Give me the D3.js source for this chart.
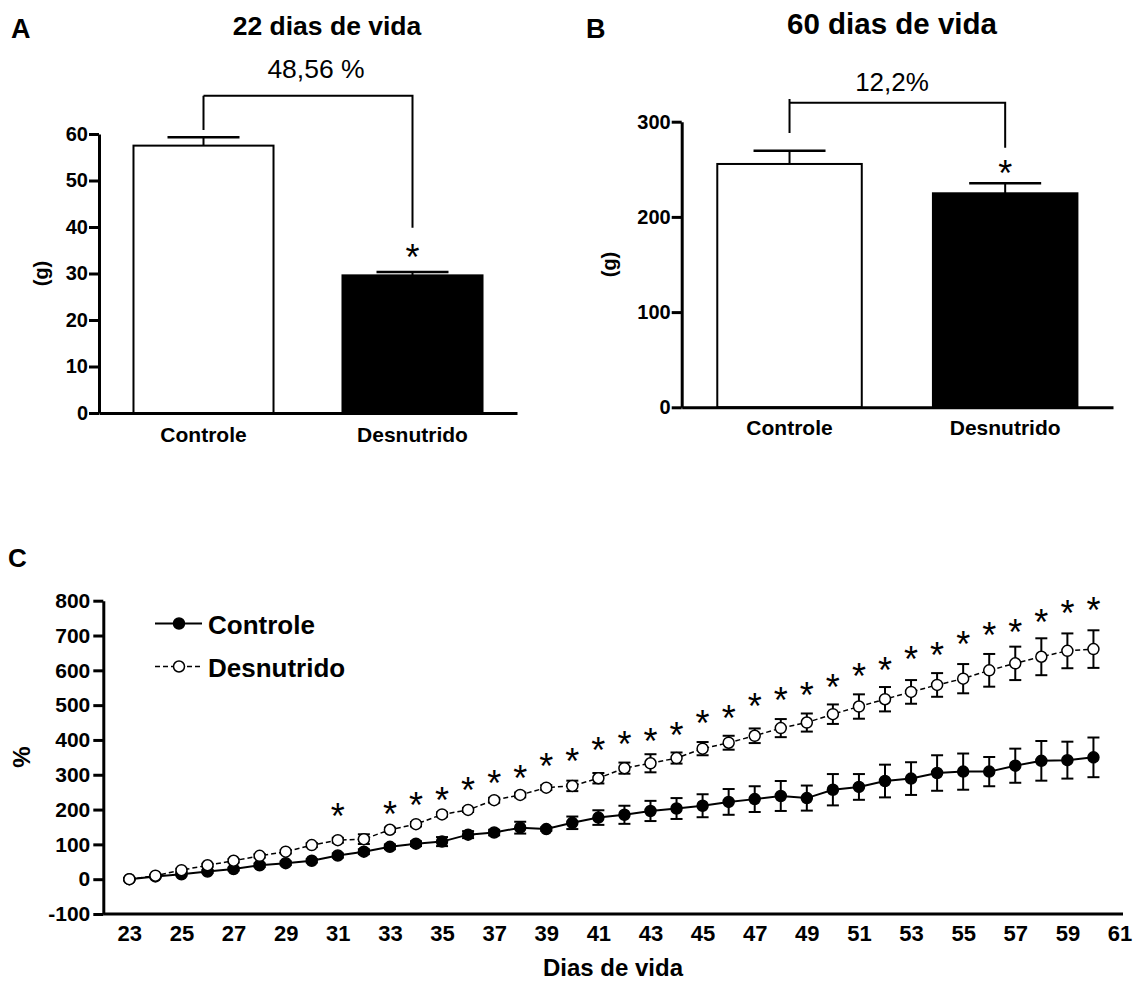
<!DOCTYPE html>
<html>
<head>
<meta charset="utf-8">
<script src="https://cdn.jsdelivr.net/npm/d3@7"></script>
<style>
  body { margin: 0; background: #fff; }
  text { font-family: "Liberation Sans", Arial, Helvetica, sans-serif; }
</style>
</head>
<body>
<script>
// ---- data ----
var groups = ["Controle", "Desnutrido"];

var weight22 = [57.5, 29.6];
var sem22 = [1.8, 0.7];
var ticks22 = [0, 10, 20, 30, 40, 50, 60];

var weight60 = [255.6, 224.8];
var sem60 = [14, 10.5];
var ticks60 = [0, 100, 200, 300];

var days = [23, 24, 25, 26, 27, 28, 29, 30, 31, 32, 33, 34, 35, 36, 37, 38, 39, 40, 41,
            42, 43, 44, 45, 46, 47, 48, 49, 50, 51, 52, 53, 54, 55, 56, 57, 58, 59, 60];
var controle = [0, 8, 14, 22, 29, 40, 46, 53, 68, 79, 93, 102, 108, 128, 134, 148, 144, 162, 177,
                185, 196, 203, 211, 222, 230, 239, 233, 257, 265, 282, 289, 305, 309, 309, 326, 340, 342, 350];
var controleErr = [3, 3, 3, 4, 4, 5, 5, 5, 6, 7, 7, 7, 13, 10, 8, 17, 5, 18, 21,
                   26, 29, 30, 33, 37, 37, 43, 36, 45, 37, 47, 47, 51, 52, 42, 49, 57, 53, 57];
var desnutrido = [0, 10, 26, 40, 53, 67, 79, 98, 112, 115, 142, 158, 186, 199, 227, 242, 263, 268, 290,
                  319, 333, 348, 375, 392, 412, 434, 450, 474, 496, 517, 538, 558, 576, 600, 620, 639, 656, 661];
var desnutridoErr = [2, 3, 4, 4, 5, 5, 5, 6, 7, 14, 6, 6, 6, 6, 7, 7, 7, 15, 15,
                     16, 26, 16, 19, 20, 21, 26, 26, 28, 35, 35, 34, 34, 42, 47, 48, 53, 50, 54];
var starDays = [31, 33, 34, 35, 36, 37, 38, 39, 40, 41, 42, 43, 44, 45, 46, 47, 48, 49, 50,
                51, 52, 53, 54, 55, 56, 57, 58, 59, 60];
var starLevel = [201, 208, 235, 249, 276, 297, 311, 345, 359, 393, 409, 418, 436, 469, 485, 517, 534, 550, 573,
                 603, 622, 653, 666, 697, 723, 732, 758, 785, 795];
var dayTicks = [23, 25, 27, 29, 31, 33, 35, 37, 39, 41, 43, 45, 47, 49, 51, 53, 55, 57, 59, 61];
var pctTicks = [-100, 0, 100, 200, 300, 400, 500, 600, 700, 800];

var svg = d3.select("body").append("svg")
    .attr("width", 1138)
    .attr("height", 981);

function styleAxis(g, size) {
    g.attr("font-family", null).attr("font-size", null);
    g.select(".domain").attr("stroke-width", 3);
    g.selectAll(".tick line").attr("stroke-width", 3);
    g.selectAll("text")
        .style("font-size", size + "px")
        .style("font-weight", "bold")
        .attr("fill", "#000");
}

function star(g, x, y, fs) {
    g.append("text")
        .attr("x", x)
        .attr("y", y + 0.56 * fs)
        .attr("text-anchor", "middle")
        .style("font-size", fs + "px")
        .text("*");
}

var plainNum = function(d) { return String(d); };

// ---- bar panels ----
function barPanel(opt) {
    var g = svg.append("g");
    var x = d3.scaleBand().domain(groups).range([opt.left, opt.right])
        .paddingInner(0.33).paddingOuter(0.165);
    var y = d3.scaleLinear().domain([0, opt.max]).range([opt.bottom, opt.top]);
    var bw = x.bandwidth();
    var data = groups.map(function(d, i) { return {g: d, v: opt.values[i], e: opt.errs[i]}; });

    // error bars (upper only)
    g.selectAll(".eb").data(data).enter().append("line")
        .attr("x1", function(d) { return x(d.g) + bw / 2; })
        .attr("x2", function(d) { return x(d.g) + bw / 2; })
        .attr("y1", function(d) { return y(d.v); })
        .attr("y2", function(d) { return y(d.v + d.e); })
        .attr("stroke", "#000").attr("stroke-width", 2);
    g.selectAll(".cap").data(data).enter().append("line")
        .attr("x1", function(d) { return x(d.g) + bw / 2 - 36; })
        .attr("x2", function(d) { return x(d.g) + bw / 2 + 36; })
        .attr("y1", function(d) { return y(d.v + d.e); })
        .attr("y2", function(d) { return y(d.v + d.e); })
        .attr("stroke", "#000").attr("stroke-width", 2.5);

    g.selectAll(".bar").data(data).enter().append("rect")
        .attr("x", function(d) { return x(d.g); })
        .attr("y", function(d) { return y(d.v); })
        .attr("width", bw)
        .attr("height", function(d) { return y(0) - y(d.v); })
        .attr("fill", function(d, i) { return i === 0 ? "#fff" : "#000"; })
        .attr("stroke", "#000")
        .attr("stroke-width", 2);

    var ya = g.append("g")
        .attr("transform", "translate(" + opt.left + ",0)")
        .call(d3.axisLeft(y).tickValues(opt.ticks).tickFormat(plainNum)
            .tickSize(10).tickSizeOuter(0).tickPadding(1));
    styleAxis(ya, 20);

    var xa = g.append("g")
        .attr("transform", "translate(0," + opt.bottom + ")")
        .call(d3.axisBottom(x).tickSize(0).tickSizeOuter(0));
    styleAxis(xa, 21);
    xa.selectAll("text").attr("y", opt.labelGap).attr("dy", 0);

    g.append("text")
        .attr("transform", "translate(" + opt.ylabX + "," + ((opt.top + opt.bottom) / 2) + ") rotate(-90)")
        .attr("text-anchor", "middle")
        .style("font-size", "20px").style("font-weight", "bold")
        .text("(g)");

    g.append("text")
        .attr("x", opt.letterX).attr("y", opt.letterY)
        .style("font-size", "27px").style("font-weight", "bold")
        .text(opt.letter);

    g.append("text")
        .attr("x", opt.titleX).attr("y", opt.titleY)
        .attr("text-anchor", "middle")
        .style("font-size", opt.titleSize + "px").style("font-weight", "bold")
        .text(opt.title);

    // comparison bracket
    var cx0 = x(groups[0]) + bw / 2, cx1 = x(groups[1]) + bw / 2;
    g.append("path")
        .attr("d", "M" + cx0 + "," + opt.brL + "V" + opt.brTopStub + "M" + cx0 + "," + opt.brTop +
              "H" + cx1 + "V" + opt.brR)
        .attr("fill", "none").attr("stroke", "#000").attr("stroke-width", 2);
    g.append("text")
        .attr("x", opt.pctX).attr("y", opt.pctY)
        .attr("text-anchor", "middle")
        .style("font-size", opt.pctSize + "px")
        .text(opt.pct);

    star(g, cx1, opt.starY, 36);
}

barPanel({
    left: 99, right: 517, top: 134, bottom: 413, max: 60,
    values: weight22, errs: sem22, ticks: ticks22, labelGap: 28.5,
    ylabX: 48, letter: "A", letterX: 11, letterY: 38,
    title: "22 dias de vida", titleX: 327, titleY: 35, titleSize: 26.5,
    brTop: 95.7, brTopStub: 95.7, brL: 130, brR: 227.7,
    pct: "48,56 %", pctX: 316, pctY: 78, pctSize: 26.5, starY: 250
});

barPanel({
    left: 681.7, right: 1113, top: 121.7, bottom: 407.3, max: 300,
    values: weight60, errs: sem60, ticks: ticks60, labelGap: 28,
    ylabX: 616, letter: "B", letterX: 586, letterY: 38,
    title: "60 dias de vida", titleX: 892, titleY: 34, titleSize: 29.5,
    brTop: 102.7, brTopStub: 99, brL: 133, brR: 147.7,
    pct: "12,2%", pctX: 892, pctY: 90.7, pctSize: 26, starY: 165.5
});

// ---- panel C: growth curve ----
var gC = svg.append("g");
var xC = d3.scaleLinear().domain([22, 61]).range([103.3, 1119.5]);
var yC = d3.scaleLinear().domain([-100, 800]).range([914, 600.7]);

var series = [
    {name: "Controle", vals: controle, errs: controleErr, fill: "#000", dash: null, lw: 2},
    {name: "Desnutrido", vals: desnutrido, errs: desnutridoErr, fill: "#fff", dash: "5,3", lw: 1.5}
];

var line = d3.line()
    .x(function(d) { return xC(d.day); })
    .y(function(d) { return yC(d.v); });

series.forEach(function(s) {
    var pts = days.map(function(day, i) { return {day: day, v: s.vals[i], e: s.errs[i]}; });
    s.pts = pts;
    gC.append("path")
        .datum(pts)
        .attr("d", line)
        .attr("fill", "none")
        .attr("stroke", "#000")
        .attr("stroke-width", s.lw)
        .attr("stroke-dasharray", s.dash);
});

series.forEach(function(s) {
    var eg = gC.append("g").attr("stroke", "#000").attr("stroke-width", 2);
    eg.selectAll(".v").data(s.pts).enter().append("line")
        .attr("x1", function(d) { return xC(d.day); })
        .attr("x2", function(d) { return xC(d.day); })
        .attr("y1", function(d) { return yC(d.v - d.e); })
        .attr("y2", function(d) { return yC(d.v + d.e); });
    eg.selectAll(".t").data(s.pts).enter().append("line")
        .attr("x1", function(d) { return xC(d.day) - 6; })
        .attr("x2", function(d) { return xC(d.day) + 6; })
        .attr("y1", function(d) { return yC(d.v + d.e); })
        .attr("y2", function(d) { return yC(d.v + d.e); });
    eg.selectAll(".b").data(s.pts).enter().append("line")
        .attr("x1", function(d) { return xC(d.day) - 6; })
        .attr("x2", function(d) { return xC(d.day) + 6; })
        .attr("y1", function(d) { return yC(d.v - d.e); })
        .attr("y2", function(d) { return yC(d.v - d.e); });
});

series.forEach(function(s) {
    gC.selectAll(".m-" + s.name).data(s.pts).enter().append("circle")
        .attr("cx", function(d) { return xC(d.day); })
        .attr("cy", function(d) { return yC(d.v); })
        .attr("r", 5.5)
        .attr("fill", s.fill)
        .attr("stroke", "#000")
        .attr("stroke-width", 1.5);
});

starDays.forEach(function(day, i) {
    star(gC, xC(day), yC(starLevel[i]), 36);
});

var yaC = gC.append("g")
    .attr("transform", "translate(103.3,0)")
    .call(d3.axisLeft(yC).tickValues(pctTicks).tickFormat(plainNum)
        .tickSize(10).tickSizeOuter(0).tickPadding(3));
styleAxis(yaC, 21);

var xaC = gC.append("g")
    .attr("transform", "translate(0,914)")
    .call(d3.axisBottom(xC).tickValues(dayTicks).tickSize(0).tickSizeOuter(0));
styleAxis(xaC, 22);
xaC.selectAll("text").attr("y", 27).attr("dy", 0);
xaC.select(".domain").attr("d", "M103.3,0H1123");

gC.append("text")
    .attr("x", 613).attr("y", 976)
    .attr("text-anchor", "middle")
    .style("font-size", "24px").style("font-weight", "bold")
    .text("Dias de vida");

gC.append("text")
    .attr("transform", "translate(30,757) rotate(-90)")
    .attr("text-anchor", "middle")
    .style("font-size", "24px").style("font-weight", "bold")
    .text("%");

gC.append("text")
    .attr("x", 8).attr("y", 567)
    .style("font-size", "26px").style("font-weight", "bold")
    .text("C");

// legend
var legY = [623.5, 666.5];
series.forEach(function(s, i) {
    gC.append("line")
        .attr("x1", 155).attr("x2", 202)
        .attr("y1", legY[i]).attr("y2", legY[i])
        .attr("stroke", "#000").attr("stroke-width", s.lw)
        .attr("stroke-dasharray", s.dash);
    gC.append("circle")
        .attr("cx", 179).attr("cy", legY[i]).attr("r", 5.5)
        .attr("fill", s.fill).attr("stroke", "#000").attr("stroke-width", 1.5);
    gC.append("text")
        .attr("x", 208).attr("y", legY[i] + 10)
        .style("font-size", "26px").style("font-weight", "bold")
        .text(s.name);
});
</script>
</body>
</html>
